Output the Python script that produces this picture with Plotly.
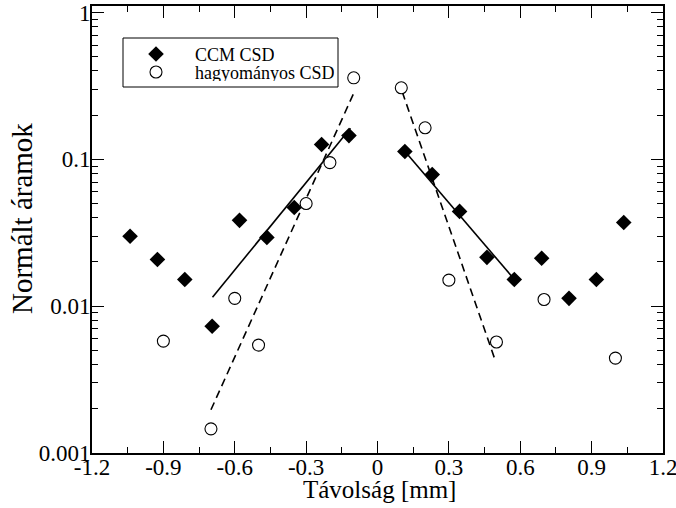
import plotly.graph_objects as go

# CCM CSD (filled diamonds)
ccm_x = [-1.04, -0.925, -0.81, -0.695, -0.58, -0.465, -0.35, -0.235, -0.12,
         0.115, 0.23, 0.345, 0.46, 0.575, 0.69, 0.805, 0.92, 1.035]
ccm_y = [0.0299, 0.0208, 0.0152, 0.0073, 0.0384, 0.0294, 0.047, 0.126, 0.145,
         0.113, 0.0787, 0.0442, 0.0215, 0.0152, 0.0212, 0.0113, 0.0152, 0.0371]

# hagyományos CSD (open circles)
hag_x = [-0.9, -0.7, -0.6, -0.5, -0.3, -0.2, -0.1, 0.1, 0.2, 0.3, 0.5, 0.7, 1.0]
hag_y = [0.00578, 0.00146, 0.0113, 0.00543, 0.050, 0.095, 0.359, 0.307, 0.164,
         0.01504, 0.0057, 0.0111, 0.00443]

# Exponential fit lines (end points)
fit_ccm_left_x = [-0.6935, -0.1137]
fit_ccm_left_y = [0.0115, 0.163]
fit_ccm_right_x = [0.114, 0.577]
fit_ccm_right_y = [0.1139, 0.0151]
fit_hag_left_x = [-0.700, -0.0998]
fit_hag_left_y = [0.00197, 0.2825]
fit_hag_right_x = [0.104, 0.494]
fit_hag_right_y = [0.288, 0.00431]

series_names = ["CCM CSD", "hagyományos CSD"]
x_title = "Távolság [mm]"
y_title = "Normált áramok"
x_ticks = [-1.2, -0.9, -0.6, -0.3, 0, 0.3, 0.6, 0.9, 1.2]
x_ticktext = ["-1.2", "-0.9", "-0.6", "-0.3", "0", "0.3", "0.6", "0.9", "1.2"]
y_ticks = [0.001, 0.01, 0.1, 1]
y_ticktext = ["0.001", "0.01", "0.1", "1"]
y_minor = [k * 10.0 ** d for d in (-3, -2, -1) for k in range(2, 10)]
x_minor = [-1.05, -0.75, -0.45, -0.15, 0.15, 0.45, 0.75, 1.05]

FONT = "Liberation Serif"
W, H = 676, 508
ML, MR, MT, MB = 92, 13, 6, 55
PW, PH = W - ML - MR, H - MT - MB


def px_to_paper(px, py):
    return (px - ML) / PW, (H - MB - py) / PH


fig = go.Figure()

for xs, ys, dash in [
    (fit_ccm_left_x, fit_ccm_left_y, "solid"),
    (fit_ccm_right_x, fit_ccm_right_y, "solid"),
    (fit_hag_left_x, fit_hag_left_y, "8px,5px"),
    (fit_hag_right_x, fit_hag_right_y, "8px,5px"),
]:
    fig.add_trace(go.Scatter(x=xs, y=ys, mode="lines", showlegend=False,
                             line=dict(color="black", width=1.6, dash=dash),
                             hoverinfo="skip"))

ccm_marker = dict(symbol="diamond", size=12, color="black", line=dict(width=0))
hag_marker = dict(symbol="circle", size=12, color="white",
                  line=dict(width=1.1, color="black"))

fig.add_trace(go.Scatter(x=ccm_x, y=ccm_y, mode="markers", name=series_names[0],
                         marker=ccm_marker, showlegend=False))
fig.add_trace(go.Scatter(x=hag_x, y=hag_y, mode="markers", name=series_names[1],
                         marker=hag_marker, showlegend=False))

# Legend box drawn on an overlay axis expressed in pixel units of the page
LEG_BOX = (123, 38, 338, 87)
LEG_SYM_X, LEG_TXT_X, LEG_ROWS = 156, 194, (54, 72)
fig.add_trace(go.Scatter(x=[LEG_SYM_X], y=[LEG_ROWS[0]], mode="markers",
                         marker=ccm_marker, xaxis="x2", yaxis="y2",
                         showlegend=False, hoverinfo="skip"))
fig.add_trace(go.Scatter(x=[LEG_SYM_X], y=[LEG_ROWS[1]], mode="markers",
                         marker=hag_marker, xaxis="x2", yaxis="y2",
                         showlegend=False, hoverinfo="skip"))
fig.add_shape(type="rect", xref="x2", yref="y2",
              x0=LEG_BOX[0], y0=LEG_BOX[1], x1=LEG_BOX[2], y1=LEG_BOX[3],
              line=dict(color="black", width=1), fillcolor="rgba(0,0,0,0)",
              layer="below")
for name, row in zip(series_names, LEG_ROWS):
    fig.add_annotation(x=LEG_TXT_X, y=row, xref="x2", yref="y2", text=name,
                       showarrow=False, xanchor="left", yanchor="middle",
                       height=17, valign="middle", borderpad=0,
                       font=dict(family=FONT, size=18, color="black"))

# axis titles
xt = px_to_paper(379, 489)
fig.add_annotation(x=xt[0], y=xt[1], xref="paper", yref="paper", text=x_title,
                   showarrow=False, xanchor="center", yanchor="middle",
                   height=28, valign="middle", borderpad=0,
                   font=dict(family=FONT, size=25, color="black"))
yt = px_to_paper(22, 219)
fig.add_annotation(x=yt[0], y=yt[1], xref="paper", yref="paper", text=y_title,
                   showarrow=False, textangle=-90, xanchor="center",
                   yanchor="middle", font=dict(family=FONT, size=29, color="black"))

fig.update_layout(
    width=W, height=H,
    margin=dict(l=ML, r=MR, t=MT, b=MB, autoexpand=False),
    paper_bgcolor="white", plot_bgcolor="white",
    font=dict(family=FONT, color="black", size=20),
    showlegend=False,
    xaxis2=dict(overlaying="x", range=[ML, W - MR], visible=False,
                fixedrange=True),
    yaxis2=dict(overlaying="y", range=[H - MB, MT], visible=False,
                fixedrange=True),
)

fig.layout.xaxis.update(
    range=[-1.2, 1.2], tickmode="array", tickvals=x_ticks, ticktext=x_ticktext,
    ticks="inside", ticklen=12, tickwidth=1.3, tickcolor="black",
    minor=dict(tickmode="array", tickvals=x_minor, ticks="inside", ticklen=6,
               tickwidth=1.3, tickcolor="black"),
    showline=True, linecolor="black", linewidth=2, mirror="allticks",
    showgrid=False, zeroline=False, automargin=False, ticklabeloverflow="allow",
    ticklabelstandoff=-8,
    tickfont=dict(family=FONT, size=23, color="black"),
)
fig.layout.yaxis.update(
    type="log", range=[-3, 0.044], tickmode="array", tickvals=y_ticks,
    ticktext=y_ticktext,
    ticks="inside", ticklen=12, tickwidth=1.3, tickcolor="black",
    minor=dict(tickmode="array", tickvals=y_minor, ticks="inside", ticklen=6,
               tickwidth=1.3, tickcolor="black"),
    showline=True, linecolor="black", linewidth=2, mirror="allticks",
    showgrid=False, zeroline=False, automargin=False, ticklabeloverflow="allow",
    ticklabelstandoff=-5,
    tickfont=dict(family=FONT, size=23, color="black"),
)

fig.write_html("out.html")
